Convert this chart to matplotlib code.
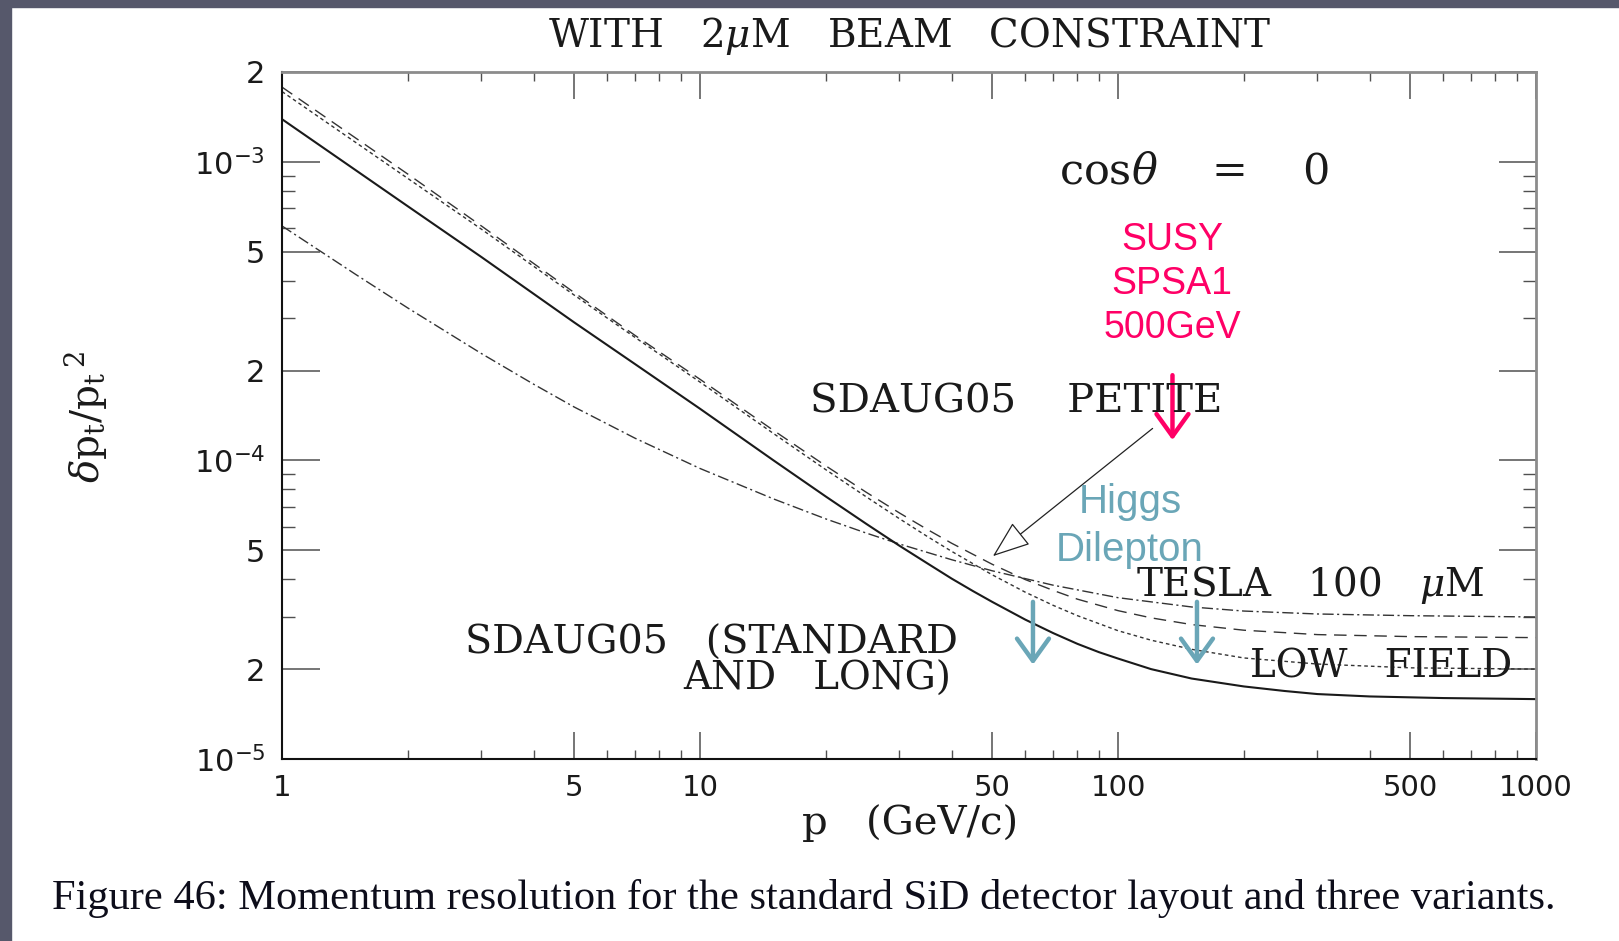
import matplotlib
matplotlib.use("Agg")
import matplotlib.pyplot as plt
from matplotlib.ticker import FixedLocator, NullFormatter
from matplotlib.patches import Rectangle

# ---------------------------------------------------------------------------
# Momentum resolution  delta(pt)/pt^2  [(GeV/c)^-1]  versus p [GeV/c]
# ---------------------------------------------------------------------------
p_standard = [1, 2, 3, 5, 7, 10, 15, 20, 25, 30, 35, 40, 45, 50, 60, 70, 80, 90, 100,
              120, 150, 200, 250, 300, 400, 600, 1000]
res_standard = [1.39e-3, 7.1e-4, 4.8e-4, 2.9e-4, 2.1e-4, 1.49e-4, 1.0e-4, 7.57e-5, 6.13e-5,
                5.18e-5, 4.52e-5, 4.02e-5, 3.65e-5, 3.36e-5, 2.93e-5, 2.64e-5, 2.43e-5,
                2.28e-5, 2.17e-5, 2.0e-5, 1.86e-5, 1.75e-5, 1.69e-5, 1.65e-5, 1.62e-5,
                1.6e-5, 1.587e-5]

p_petite = [1, 2, 3, 5, 7, 10, 15, 20, 25, 30, 35, 40, 50, 60, 70, 80, 100, 120, 150,
            200, 300, 500, 1000]
res_petite = [1.78e-3, 9.1e-4, 6.1e-4, 3.65e-4, 2.62e-4, 1.87e-4, 1.26e-4, 9.59e-5, 7.82e-5,
              6.67e-5, 5.87e-5, 5.28e-5, 4.49e-5, 3.99e-5, 3.67e-5, 3.43e-5, 3.14e-5, 2.97e-5,
              2.82e-5, 2.7e-5, 2.61e-5, 2.57e-5, 2.55e-5]

p_lowfield = [1, 2, 3, 5, 7, 10, 15, 20, 25, 30, 35, 40, 50, 60, 70, 80, 100, 120, 150,
              200, 300, 500, 1000]
res_lowfield = [1.72e-3, 8.8e-4, 5.95e-4, 3.58e-4, 2.58e-4, 1.83e-4, 1.23e-4, 9.31e-5, 7.55e-5,
                6.38e-5, 5.56e-5, 4.96e-5, 4.14e-5, 3.62e-5, 3.27e-5, 3.02e-5, 2.69e-5, 2.5e-5,
                2.33e-5, 2.18e-5, 2.08e-5, 2.02e-5, 2.0e-5]

p_tesla = [1, 1.5, 2, 3, 4, 5, 7, 10, 15, 20, 25, 30, 40, 50, 70, 100, 150, 200, 300, 500, 1000]
res_tesla = [6.1e-4, 4.2e-4, 3.24e-4, 2.28e-4, 1.8e-4, 1.51e-4, 1.186e-4, 9.4e-5, 7.43e-5,
             6.37e-5, 5.71e-5, 5.25e-5, 4.65e-5, 4.27e-5, 3.82e-5, 3.47e-5, 3.23e-5, 3.13e-5,
             3.06e-5, 3.02e-5, 2.99e-5]

x_major = [1, 5, 10, 50, 100, 500, 1000]
x_major_labels = ["1", "5", "10", "50", "100", "500", "1000"]
x_minor = [m * d for d in (1, 10, 100) for m in (2, 3, 4, 6, 7, 8, 9)]

y_major = [1e-5, 2e-5, 5e-5, 1e-4, 2e-4, 5e-4, 1e-3, 2e-3]
y_major_labels = [r"$10^{-5}$", "2", "5", r"$10^{-4}$", "2", "5", r"$10^{-3}$", "2"]
y_minor = [m * d for d in (1e-5, 1e-4) for m in (3, 4, 6, 7, 8, 9)]

# ---------------------------------------------------------------------------
W, H = 1619, 941
plt.rcParams["font.family"] = ["DejaVu Sans"]
plt.rcParams["lines.scale_dashes"] = False

fig = plt.figure(figsize=(W / 100, H / 100), dpi=100)
fig.patch.set_facecolor("white")


def fx(px):
    return px / W


def fy(py):
    return 1 - py / H


# slide frame strips
fig.patches.append(Rectangle((0, fy(7)), 1, 7 / H, transform=fig.transFigure,
                             color="#56586b", zorder=0))
fig.patches.append(Rectangle((0, 0), 11 / W, 1, transform=fig.transFigure,
                             color="#56586b", zorder=0))

ax_l, ax_r, ax_t, ax_b = 282, 1536, 72, 759
ax = fig.add_axes([fx(ax_l), fy(ax_b), (ax_r - ax_l) / W, (ax_b - ax_t) / H])
ax.set_xscale("log")
ax.set_yscale("log")
ax.set_xlim(1, 1000)
ax.set_ylim(1e-5, 2e-3)

ink = "#1a1a1a"
ax.plot(p_tesla, res_tesla, color="#333333", lw=1.0, dashes=(8, 2.5, 1.5, 2.5))
ax.plot(p_petite, res_petite, color="#333333", lw=1.0, dashes=(9, 5.5))
ax.plot(p_lowfield, res_lowfield, color="#333333", lw=1.0, dashes=(2.6, 2.2))
ax.plot(p_standard, res_standard, color=ink, lw=1.5)

# axes frame
for side in ("left", "bottom"):
    ax.spines[side].set_color("#111111")
    ax.spines[side].set_linewidth(1.5)
for side in ("top", "right"):
    ax.spines[side].set_color("#8c8c8c")
    ax.spines[side].set_linewidth(2.0)

ax.xaxis.set_major_locator(FixedLocator(x_major))
ax.xaxis.set_minor_locator(FixedLocator(x_minor))
ax.set_xticklabels(x_major_labels)
ax.xaxis.set_minor_formatter(NullFormatter())
ax.yaxis.set_major_locator(FixedLocator(y_major))
ax.yaxis.set_minor_locator(FixedLocator(y_minor))
ax.set_yticklabels(y_major_labels)
ax.yaxis.set_minor_formatter(NullFormatter())

ax.tick_params(which="both", direction="in", top=True, right=True, color="#505050")
ax.tick_params(axis="x", which="major", length=19.5, width=1.1, pad=11, labelsize=21, labelcolor=ink)
ax.tick_params(axis="x", which="minor", length=6.5, width=1.0)
ax.tick_params(axis="y", which="major", length=27, width=1.1, pad=12, labelsize=22, labelcolor=ink)
ax.tick_params(axis="y", which="minor", length=9.5, width=1.0)

serif = dict(family="DejaVu Serif", math_fontfamily="dejavuserif", color=ink)

# title and axis labels
fig.text(fx(910), fy(36), r"WITH   2$\mu$M   BEAM   CONSTRAINT", ha="center", va="center",
         fontsize=28, **serif)
fig.text(fx(910), fy(823), "p   (GeV/c)", ha="center", va="center", fontsize=29, **serif)
fig.text(fx(85), fy(417), r"$\delta\mathrm{p_t/p_t}^{\,2}$", ha="center", va="center",
         rotation=90, fontsize=28, **serif)

# curve annotations
fig.text(fx(1059), fy(171), r"cos$\theta$    =    0", ha="left", va="center", fontsize=31, **serif)
fig.text(fx(810), fy(402), "SDAUG05    PETITE", ha="left", va="center", fontsize=29, **serif)
fig.text(fx(1136), fy(585), r"TESLA   100   $\mu$M", ha="left", va="center", fontsize=28, **serif)
fig.text(fx(1250), fy(667), "LOW   FIELD", ha="left", va="center", fontsize=28, **serif)
fig.text(fx(465), fy(643), "SDAUG05   (STANDARD", ha="left", va="center", fontsize=28.5, **serif)
fig.text(fx(683), fy(679), "AND   LONG)", ha="left", va="center", fontsize=28, **serif)

ax.annotate("", xy=(50.2, 4.78e-5), xytext=(121, 1.28e-4),
            arrowprops=dict(arrowstyle="-|>,head_length=2.4,head_width=0.9", lw=0.9,
                            ec="#222222", fc="white", shrinkA=0, shrinkB=0, mutation_scale=10))

# physics benchmarks
pink = "#ff0066"
teal = "#6aa6b7"
fig.text(fx(1172), fy(284), "SUSY\nSPSA1\n500GeV", ha="center", va="center", fontsize=27,
         family="Liberation Sans", color=pink, linespacing=1.3)
ax.annotate("", xy=(135, 1.17e-4), xytext=(135, 1.93e-4),
            arrowprops=dict(arrowstyle="->,head_length=1.6,head_width=1.15", lw=3.2,
                            color=pink, shrinkA=0, shrinkB=0, mutation_scale=10))

fig.text(fx(1130), fy(526), "Higgs\nDilepton", ha="center", va="center", fontsize=29,
         family="Liberation Sans", color=teal, linespacing=1.33)
for p_arrow in (62.6, 154.5):
    ax.annotate("", xy=(p_arrow, 2.07e-5), xytext=(p_arrow, 3.36e-5),
                arrowprops=dict(arrowstyle="->,head_length=1.6,head_width=1.15", lw=3.2,
                                color=teal, shrinkA=0, shrinkB=0, mutation_scale=10))

# caption
fig.text(fx(52), fy(899), "Figure 46: Momentum resolution for the standard SiD detector layout "
         "and three variants.", ha="left", va="center", fontsize=30.5,
         family="Liberation Serif", color="#0d0d1a")

fig.savefig("out.png", dpi=100)
